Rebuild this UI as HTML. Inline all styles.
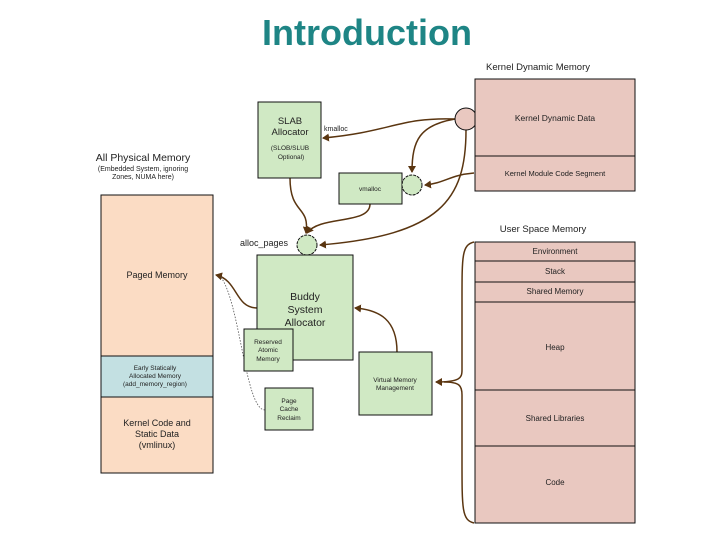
<!DOCTYPE html>
<html><head><meta charset="utf-8"><style>
body{margin:0;background:#fff;width:728px;height:546px;overflow:hidden}
svg text{font-family:"Liberation Sans",sans-serif;fill:#222}
</style></head><body>
<svg width="728" height="546" viewBox="0 0 728 546" xmlns="http://www.w3.org/2000/svg">
<defs><marker id="a" markerWidth="8" markerHeight="8" refX="6" refY="4" orient="auto" markerUnits="userSpaceOnUse"><path d="M0,0 L7,4 L0,8 z" fill="#5a3510"/></marker></defs>
<text x="367" y="45" text-anchor="middle" font-size="36" font-weight="bold" style="fill:#1e8585">Introduction</text>

<text x="143" y="161" text-anchor="middle" font-size="10.5">All Physical Memory</text>
<text x="143" y="171" text-anchor="middle" font-size="7">(Embedded System, ignoring</text>
<text x="143" y="179" text-anchor="middle" font-size="7">Zones, NUMA here)</text>
<rect x="101" y="195" width="112" height="161" fill="#fbdcc4" stroke="#111"/>
<rect x="101" y="356" width="112" height="41" fill="#c3e0e2" stroke="#111"/>
<rect x="101" y="397" width="112" height="76" fill="#fbdcc4" stroke="#111"/>
<text x="157" y="278" text-anchor="middle" font-size="9">Paged Memory</text>
<text x="155" y="370" text-anchor="middle" font-size="6.5">Early Statically</text>
<text x="155" y="378" text-anchor="middle" font-size="6.5">Allocated Memory</text>
<text x="155" y="386" text-anchor="middle" font-size="6.5">(add_memory_region)</text>
<text x="157" y="426" text-anchor="middle" font-size="9">Kernel Code and</text>
<text x="157" y="437" text-anchor="middle" font-size="9">Static Data</text>
<text x="157" y="448" text-anchor="middle" font-size="9">(vmlinux)</text>

<g fill="none" stroke="#5a3510" stroke-width="1.5">
<path d="M455,119 C400,117 390,132 323,138" marker-end="url(#a)"/>
<path d="M455,119 C420,125 412,140 412,172" marker-end="url(#a)"/>
<path d="M474,173 C450,175 445,183 425,185" marker-end="url(#a)"/>
<path d="M466,130 C466,200 440,235 320,245" marker-end="url(#a)"/>
<path d="M290,178 C290,215 310,205 306,233" marker-end="url(#a)"/>
<path d="M370,204 C370,225 320,215 307,233" marker-end="url(#a)"/>
<path d="M257,308 C235,308 238,280 216,275" marker-end="url(#a)"/>
<path d="M397,352 C397,320 380,310 355,308" marker-end="url(#a)"/>
<path d="M474,242 C462,245 462,255 462,300 L462,370 C462,378 460,382 436,382" marker-end="url(#a)"/>
<path d="M474,523 C462,520 462,510 462,460 L462,395 C462,386 460,382 444,382"/>
</g>
<path d="M265,410 C245,410 240,300 220,276" fill="none" stroke="#555" stroke-width="0.8" stroke-dasharray="1.5,1.5"/>

<rect x="258" y="102" width="63" height="76" fill="#d0e9c4" stroke="#111"/>
<text x="290" y="124" text-anchor="middle" font-size="9.5">SLAB</text>
<text x="290" y="135" text-anchor="middle" font-size="9.5">Allocator</text>
<text x="290" y="150" text-anchor="middle" font-size="6.5">(SLOB/SLUB</text>
<text x="291" y="159" text-anchor="middle" font-size="6.5">Optional)</text>
<text x="324" y="131" font-size="7">kmalloc</text>
<rect x="339" y="173" width="63" height="31" fill="#d0e9c4" stroke="#111"/>
<text x="370" y="191" text-anchor="middle" font-size="6.5">vmalloc</text>
<circle cx="412" cy="185" r="10" fill="#d0e9c4" stroke="#111" stroke-dasharray="3,1"/>
<circle cx="466" cy="119" r="11" fill="#e9c8c0" stroke="#111"/>
<text x="240" y="246" font-size="9">alloc_pages</text>
<circle cx="307" cy="245" r="10" fill="#d0e9c4" stroke="#111" stroke-dasharray="3,1"/>
<rect x="257" y="255" width="96" height="105" fill="#d0e9c4" stroke="#111"/>
<text x="305" y="300" text-anchor="middle" font-size="10.5">Buddy</text>
<text x="305" y="313" text-anchor="middle" font-size="10.5">System</text>
<text x="305" y="326" text-anchor="middle" font-size="10.5">Allocator</text>
<rect x="244" y="329" width="49" height="42" fill="#d0e9c4" stroke="#111"/>
<text x="268" y="344" text-anchor="middle" font-size="6.5">Reserved</text>
<text x="268" y="352" text-anchor="middle" font-size="6.5">Atomic</text>
<text x="268" y="361" text-anchor="middle" font-size="6.5">Memory</text>
<rect x="265" y="388" width="48" height="42" fill="#d0e9c4" stroke="#111"/>
<text x="289" y="403" text-anchor="middle" font-size="6.5">Page</text>
<text x="289" y="411" text-anchor="middle" font-size="6.5">Cache</text>
<text x="289" y="420" text-anchor="middle" font-size="6.5">Reclaim</text>
<rect x="359" y="352" width="73" height="63" fill="#d0e9c4" stroke="#111"/>
<text x="395" y="382" text-anchor="middle" font-size="6.5">Virtual Memory</text>
<text x="395" y="390" text-anchor="middle" font-size="6.5">Management</text>

<text x="538" y="70" text-anchor="middle" font-size="9.5">Kernel Dynamic Memory</text>
<rect x="475" y="79" width="160" height="77" fill="#e9c8c0" stroke="#111"/>
<rect x="475" y="156" width="160" height="35" fill="#e9c8c0" stroke="#111"/>
<text x="555" y="121" text-anchor="middle" font-size="8.5">Kernel Dynamic Data</text>
<text x="555" y="176" text-anchor="middle" font-size="7.5">Kernel Module Code Segment</text>

<text x="543" y="232" text-anchor="middle" font-size="9.5">User Space Memory</text>
<g fill="#e9c8c0" stroke="#111">
<rect x="475" y="242" width="160" height="19"/>
<rect x="475" y="261" width="160" height="21"/>
<rect x="475" y="282" width="160" height="20"/>
<rect x="475" y="302" width="160" height="88"/>
<rect x="475" y="390" width="160" height="56"/>
<rect x="475" y="446" width="160" height="77"/>
</g>
<g font-size="8" text-anchor="middle">
<text x="555" y="254">Environment</text>
<text x="555" y="274">Stack</text>
<text x="555" y="294">Shared Memory</text>
<text x="555" y="350">Heap</text>
<text x="555" y="421">Shared Libraries</text>
<text x="555" y="485">Code</text>
</g>
</svg>
</body></html>
